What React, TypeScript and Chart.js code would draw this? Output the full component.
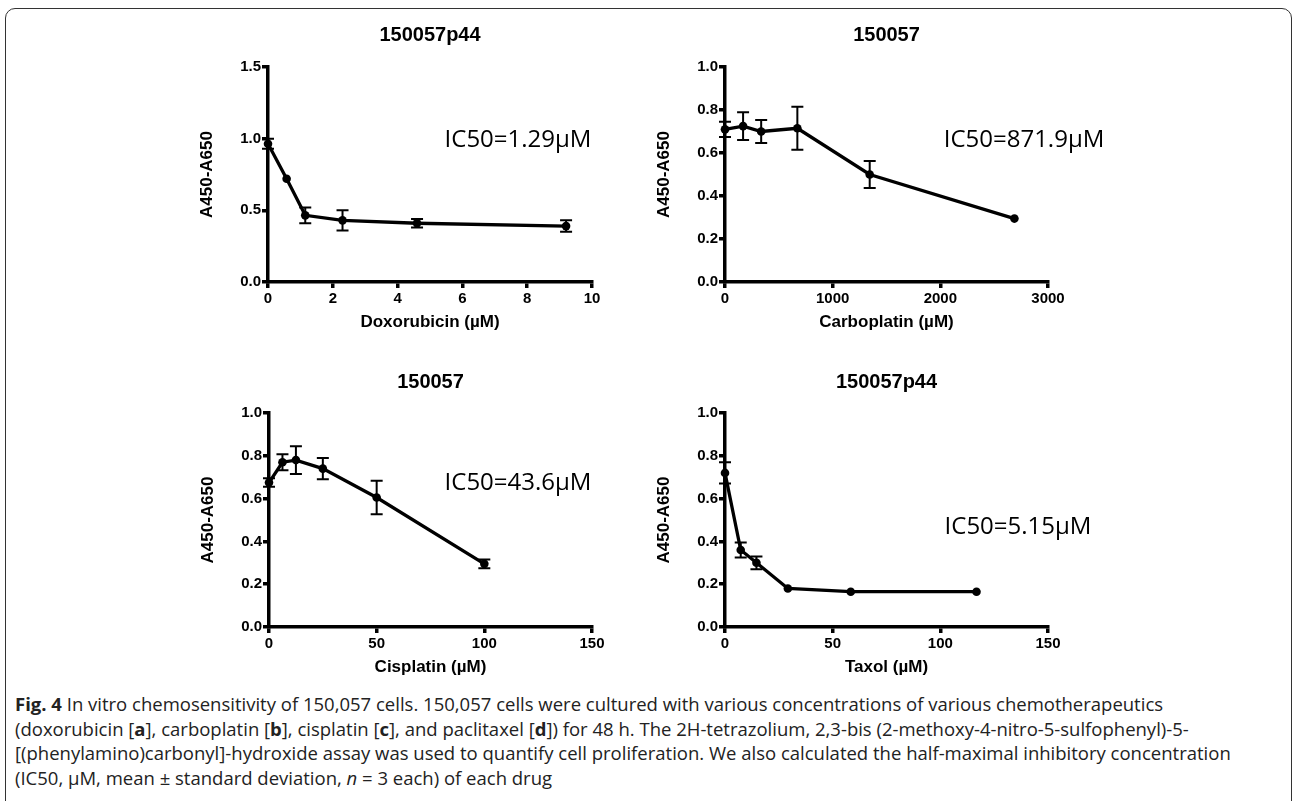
import React, { useEffect, useRef } from "react";
import { Chart, registerables } from "chart.js";

Chart.register(...registerables);

// ---------- data ----------
const doxConc = [0, 0.575, 1.15, 2.3, 4.6, 9.2];
const doxMean = [0.965, 0.72, 0.465, 0.43, 0.41, 0.39];
const doxSD = [0.035, 0.0, 0.055, 0.07, 0.03, 0.04];

const carboConc = [0, 168, 336, 672, 1344, 2688];
const carboMean = [0.71, 0.725, 0.7, 0.715, 0.5, 0.295];
const carboSD = [0.035, 0.065, 0.053, 0.1, 0.063, 0.0];

const cisConc = [0, 6.25, 12.5, 25, 50, 100];
const cisMean = [0.675, 0.77, 0.78, 0.74, 0.605, 0.295];
const cisSD = [0.02, 0.037, 0.065, 0.05, 0.078, 0.02];

const taxConc = [0, 7.3, 14.6, 29.2, 58.4, 116.8];
const taxMean = [0.72, 0.36, 0.3, 0.18, 0.165, 0.165];
const taxSD = [0.05, 0.035, 0.03, 0.0, 0.0, 0.0];

const yTicksDox = [0, 0.5, 1.0, 1.5];
const yTicksOther = [0, 0.2, 0.4, 0.6, 0.8, 1.0];
const xTicksDox = [0, 2, 4, 6, 8, 10];
const xTicksCarbo = [0, 1000, 2000, 3000];
const xTicksCis = [0, 50, 100, 150];
const xTicksTax = [0, 50, 100, 150];

const panelTitles = ["150057p44", "150057", "150057", "150057p44"];
const xTitles = ["Doxorubicin (\u00b5M)", "Carboplatin (\u00b5M)", "Cisplatin (\u00b5M)", "Taxol (\u00b5M)"];
const yTitle = "A450-A650";
const ic50Labels = ["IC50=1.29\u00b5M", "IC50=871.9\u00b5M", "IC50=43.6\u00b5M", "IC50=5.15\u00b5M"];

// ---------- layout ----------
type PanelCfg = {
  x: number[];
  y: number[];
  sd: number[];
  xTicks: number[];
  yTicks: number[];
  title: string;
  xTitle: string;
  ic50: string;
  left: number;
  top: number;
  w: number;
  h: number;
  titleDy: number;
  icDx: number;
  icDy: number;
};

const L = 78;
const T = 67;
const R = 70;
const B = 60;

const panels: PanelCfg[] = [
  {
    x: doxConc, y: doxMean, sd: doxSD, xTicks: xTicksDox, yTicks: yTicksDox,
    title: panelTitles[0], xTitle: xTitles[0], ic50: ic50Labels[0],
    left: 190, top: 0, w: 324 + L + R, h: 282 + B, titleDy: -32, icDx: 250, icDy: 73,
  },
  {
    x: carboConc, y: carboMean, sd: carboSD, xTicks: xTicksCarbo, yTicks: yTicksOther,
    title: panelTitles[1], xTitle: xTitles[1], ic50: ic50Labels[1],
    left: 647, top: 0, w: 323 + L + R, h: 282 + B, titleDy: -32, icDx: 299, icDy: 73,
  },
  {
    x: cisConc, y: cisMean, sd: cisSD, xTicks: xTicksCis, yTicks: yTicksOther,
    title: panelTitles[2], xTitle: xTitles[2], ic50: ic50Labels[2],
    left: 191, top: 346, w: 323 + L + R, h: 627 + B - 346, titleDy: -31, icDx: 249, icDy: 70,
  },
  {
    x: taxConc, y: taxMean, sd: taxSD, xTicks: xTicksTax, yTicks: yTicksOther,
    title: panelTitles[3], xTitle: xTitles[3], ic50: ic50Labels[3],
    left: 647, top: 346, w: 323 + L + R, h: 627 + B - 346, titleDy: -31, icDx: 293, icDy: 114,
  },
];

const AX_FONT = "'Liberation Sans', Arial, Helvetica, sans-serif";

function Panel({ cfg }: { cfg: PanelCfg }) {
  const ref = useRef<HTMLCanvasElement | null>(null);

  useEffect(() => {
    const canvas = ref.current;
    if (!canvas) return;

    const errPlugin = {
      id: "errbars",
      afterDatasetsDraw(chart: any) {
        const ctx = chart.ctx;
        const xs = chart.scales.x;
        const ys = chart.scales.y;
        ctx.save();
        ctx.strokeStyle = "#000";
        ctx.lineWidth = 2;
        ctx.lineCap = "butt";
        cfg.x.forEach((xv, i) => {
          const s = cfg.sd[i];
          if (!s) return;
          const px = xs.getPixelForValue(xv);
          const p1 = ys.getPixelForValue(cfg.y[i] + s);
          const p2 = ys.getPixelForValue(cfg.y[i] - s);
          ctx.beginPath();
          ctx.moveTo(px, p1);
          ctx.lineTo(px, p2);
          ctx.moveTo(px - 6, p1);
          ctx.lineTo(px + 6, p1);
          ctx.moveTo(px - 6, p2);
          ctx.lineTo(px + 6, p2);
          ctx.stroke();
        });
        ctx.restore();
      },
    };

    const textPlugin = {
      id: "paneltext",
      afterDraw(chart: any) {
        const ctx = chart.ctx;
        const a = chart.chartArea;
        ctx.save();
        ctx.fillStyle = "#000";
        ctx.textAlign = "center";
        ctx.textBaseline = "middle";
        ctx.font = `bold 20px ${AX_FONT}`;
        ctx.fillText(cfg.title, (a.left + a.right) / 2, a.top + cfg.titleDy);
        ctx.font = `24px 'Open Sans', 'Noto Sans', sans-serif`;
        ctx.fillText(cfg.ic50, a.left + cfg.icDx, a.top + cfg.icDy);
        ctx.restore();
      },
    };

    const xMin = cfg.xTicks[0];
    const xMax = cfg.xTicks[cfg.xTicks.length - 1];
    const yMin = cfg.yTicks[0];
    const yMax = cfg.yTicks[cfg.yTicks.length - 1];

    const axisGrid = {
      display: true,
      drawOnChartArea: false,
      drawTicks: true,
      tickLength: 6,
      tickWidth: 3.5,
      tickColor: "#000",
      color: "#000",
      lineWidth: 3.5,
    };
    const axisBorder = { display: true, color: "#000", width: 3.5 };

    const chart = new Chart(canvas, {
      type: "line",
      data: {
        datasets: [
          {
            data: cfg.x.map((v, i) => ({ x: v, y: cfg.y[i] })),
            borderColor: "#000",
            backgroundColor: "#000",
            borderWidth: 3.3,
            pointRadius: 4.3,
            pointBackgroundColor: "#000",
            pointBorderColor: "#000",
            pointBorderWidth: 0,
            tension: 0,
            clip: false as any,
          } as any,
        ],
      },
      options: {
        responsive: false,
        maintainAspectRatio: false,
        animation: false,
        events: [],
        layout: { padding: { top: T, right: R, left: 0, bottom: 0 } },
        plugins: {
          legend: { display: false },
          tooltip: { enabled: false },
          title: { display: false },
        },
        scales: {
          x: {
            type: "linear",
            min: xMin,
            max: xMax,
            afterBuildTicks: (s: any) => {
              s.ticks = cfg.xTicks.map((v) => ({ value: v }));
            },
            afterFit: (s: any) => {
              s.height = B;
            },
            ticks: {
              color: "#000",
              font: { family: AX_FONT, weight: "bold", size: 15 },
              padding: 2,
              maxRotation: 0,
              autoSkip: false,
              callback: (v: any) => String(v),
            },
            grid: axisGrid as any,
            border: axisBorder as any,
            title: {
              display: true,
              text: cfg.xTitle,
              color: "#000",
              font: { family: AX_FONT, weight: "bold", size: 17 },
              padding: { top: 0, bottom: 9.8 },
            },
          },
          y: {
            type: "linear",
            min: yMin,
            max: yMax,
            afterBuildTicks: (s: any) => {
              s.ticks = cfg.yTicks.map((v) => ({ value: v }));
            },
            afterFit: (s: any) => {
              s.width = L;
            },
            ticks: {
              color: "#000",
              font: { family: AX_FONT, weight: "bold", size: 15 },
              padding: 1,
              autoSkip: false,
              callback: (v: any) => Number(v).toFixed(1),
            },
            grid: axisGrid as any,
            border: axisBorder as any,
            title: {
              display: true,
              text: yTitle,
              color: "#000",
              font: { family: AX_FONT, weight: "bold", size: 17 },
              padding: { top: 6.8, bottom: 0 },
            },
          },
        },
      } as any,
      plugins: [errPlugin, textPlugin],
    });

    return () => {
      chart.destroy();
    };
  }, [cfg]);

  return (
    <canvas
      ref={ref}
      width={cfg.w}
      height={cfg.h}
      style={{ position: "absolute", left: cfg.left, top: cfg.top, width: cfg.w, height: cfg.h }}
    />
  );
}

export default function App() {
  return (
    <div style={{ position: "absolute", left: 0, top: 0, width: 1293, height: 801, background: "#fff", overflow: "hidden" }}>
      <div
        style={{
          position: "absolute",
          left: 5,
          top: 8,
          width: 1287,
          height: 820,
          boxSizing: "border-box",
          border: "1.5px solid #333",
          borderRadius: "10px 10px 0 0",
        }}
      />
      {panels.map((p, i) => (
        <Panel key={i} cfg={p} />
      ))}
      <div
        style={{
          position: "absolute",
          left: 15,
          top: 692,
          width: 1270,
          fontFamily: "'Open Sans', 'Noto Sans', sans-serif",
          fontSize: 18.5,
          lineHeight: "24.5px",
          color: "#222",
          whiteSpace: "nowrap",
        }}
      >
        <div>
          <b>Fig. 4</b> In vitro chemosensitivity of 150,057 cells. 150,057 cells were cultured with various concentrations of various chemotherapeutics
        </div>
        <div>
          (doxorubicin [<b>a</b>], carboplatin [<b>b</b>], cisplatin [<b>c</b>], and paclitaxel [<b>d</b>]) for 48 h. The 2H-tetrazolium, 2,3-bis (2-methoxy-4-nitro-5-sulfophenyl)-5-
        </div>
        <div>
          [(phenylamino)carbonyl]-hydroxide assay was used to quantify cell proliferation. We also calculated the half-maximal inhibitory concentration
        </div>
        <div>
          (IC50, µM, mean ± standard deviation, <i>n</i> = 3 each) of each drug
        </div>
      </div>
    </div>
  );
}
